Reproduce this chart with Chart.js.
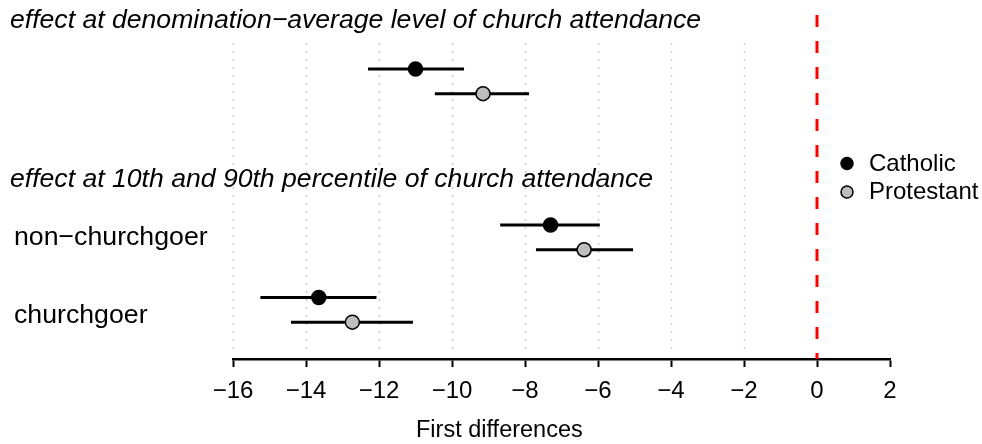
<!DOCTYPE html>
<html>
<head>
<meta charset="utf-8">
<style>
  body { margin: 0; background: #fff; }
  canvas { display: block; }
</style>
</head>
<body>
<canvas id="fdChart" width="982" height="444"></canvas>
<script src="https://cdn.jsdelivr.net/npm/chart.js"></script>
<script>
// values
const series = ['Catholic', 'Protestant'];
const sectionTitles = [
  'effect at denomination\u2212average level of church attendance',
  'effect at 10th and 90th percentile of church attendance'
];
const rowNames = ['non\u2212churchgoer', 'churchgoer'];

// rows: denomination average, non-churchgoer, churchgoer
const catholicRow = [2.2, 8.55, 11.5];
const protestantRow = [3.2, 9.55, 12.5];
const catholicEst = [-11.0, -7.3, -13.65];
const catholicLo = [-12.3, -8.68, -15.25];
const catholicHi = [-9.67, -5.95, -12.07];
const protestantEst = [-9.15, -6.38, -12.73];
const protestantLo = [-10.47, -7.7, -14.41];
const protestantHi = [-7.89, -5.04, -11.07];

const xTicks = [-16, -14, -12, -10, -8, -6, -4, -2, 0, 2];
const gridTicks = [-16, -14, -12, -10, -8, -6, -4, -2];

const FONT = '"Liberation Sans", Arial, Helvetica, sans-serif';
const GREY = '#bebebe';

(() => {
  const datasets = [];

  // points
  datasets.push({
    label: series[0],
    data: catholicEst.map((v, i) => ({ x: v, y: catholicRow[i] })),
    backgroundColor: '#000', borderColor: '#000',
    pointRadius: 7, pointBorderWidth: 1.5, order: 0
  });
  datasets.push({
    label: series[1],
    data: protestantEst.map((v, i) => ({ x: v, y: protestantRow[i] })),
    backgroundColor: GREY, borderColor: '#000',
    pointRadius: 7, pointBorderWidth: 1.5, order: 0
  });

  // confidence intervals
  catholicRow.forEach((r, i) => {
    datasets.push({
      label: 'ci', data: [{ x: catholicLo[i], y: r }, { x: catholicHi[i], y: r }],
      showLine: true, borderColor: '#000', borderWidth: 3, pointRadius: 0, order: 1
    });
  });
  protestantRow.forEach((r, i) => {
    datasets.push({
      label: 'ci', data: [{ x: protestantLo[i], y: r }, { x: protestantHi[i], y: r }],
      showLine: true, borderColor: '#000', borderWidth: 3, pointRadius: 0, order: 1
    });
  });

  // zero line
  datasets.push({
    label: 'zero', data: [{ x: 0, y: 0 }, { x: 0, y: 14 }],
    showLine: true, borderColor: '#ff0000', borderWidth: 3, borderDash: [12, 14],
    pointRadius: 0, order: 2
  });

  // dotted grid, only over the rows
  const dottedGrid = {
    id: 'dottedGrid',
    beforeDatasetsDraw(chart) {
      const ctx = chart.ctx, xs = chart.scales.x, ys = chart.scales.y;
      ctx.save();
      ctx.strokeStyle = '#cccccc';
      ctx.lineWidth = 1.5;
      ctx.setLineDash([2, 6]);
      gridTicks.forEach(t => {
        const px = Math.round(xs.getPixelForValue(t)) + 0.5;
        ctx.beginPath();
        ctx.moveTo(px, ys.getPixelForValue(1.14));
        ctx.lineTo(px, ys.getPixelForValue(13.72));
        ctx.stroke();
      });
      ctx.restore();
    }
  };

  // headings, row labels, legend and axis title
  const labels = {
    id: 'labels',
    afterDraw(chart) {
      const ctx = chart.ctx;
      ctx.save();
      ctx.fillStyle = '#000';
      ctx.textAlign = 'left';
      ctx.textBaseline = 'alphabetic';

      ctx.font = 'italic 26.6px ' + FONT;
      ctx.fillText(sectionTitles[0], 10, 28);
      ctx.fillText(sectionTitles[1], 10, 187);

      ctx.font = '26.7px ' + FONT;
      ctx.fillText(rowNames[0], 14, 245);
      ctx.fillText(rowNames[1], 14, 323);

      // legend
      ctx.font = '24px ' + FONT;
      const fills = ['#000', GREY];
      series.forEach((s, i) => {
        const y = 163.5 + i * 28.5;
        ctx.beginPath();
        ctx.arc(847, y, 6, 0, Math.PI * 2);
        ctx.fillStyle = fills[i];
        ctx.fill();
        ctx.lineWidth = 1.5;
        ctx.strokeStyle = '#000';
        ctx.stroke();
        ctx.fillStyle = '#000';
        ctx.fillText(s, 869, y + 7);
      });

      ctx.font = '23.5px ' + FONT;
      ctx.fillText('First differences', 416, 437);
      ctx.restore();
    }
  };

  new Chart(document.getElementById('fdChart'), {
    type: 'scatter',
    data: { datasets: datasets },
    plugins: [dottedGrid, labels],
    options: {
      responsive: false,
      animation: false,
      devicePixelRatio: 1,
      layout: { padding: { left: 233, right: 92, top: 15, bottom: 0 } },
      plugins: { legend: { display: false }, tooltip: { enabled: false } },
      scales: {
        x: {
          type: 'linear', min: -16, max: 2,
          afterBuildTicks: s => { s.ticks = xTicks.map(v => ({ value: v })); },
          afterFit: s => { s.height = 85; s.paddingLeft = 0; s.paddingRight = 0; },
          border: { display: true, color: '#000', width: 2.5 },
          grid: { drawOnChartArea: false, drawTicks: true, tickLength: 8, tickColor: '#000', tickWidth: 2 },
          ticks: {
            color: '#000', padding: 10, maxRotation: 0, autoSkip: false,
            font: { family: FONT, size: 24 },
            callback: v => v < 0 ? '\u2212' + Math.abs(v) : String(v)
          }
        },
        y: { type: 'linear', min: 0, max: 14, reverse: true, display: false }
      }
    }
  });
})()
</script>
</body>
</html>
